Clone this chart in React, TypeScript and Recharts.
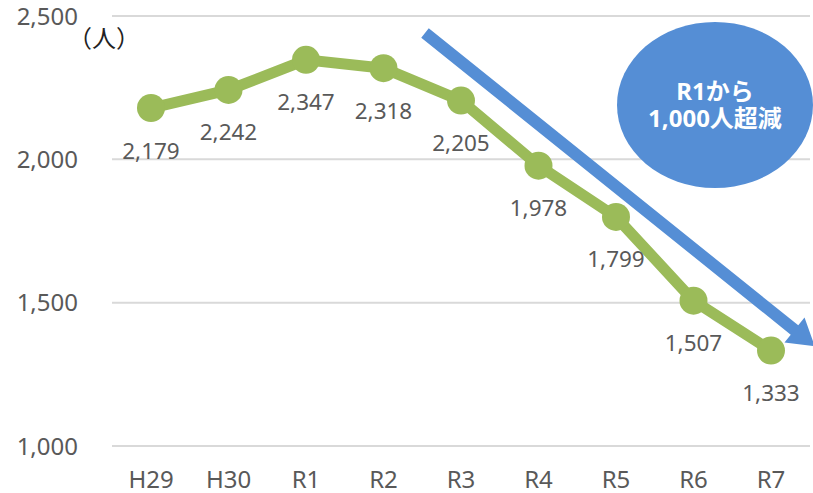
import { CartesianGrid, LabelList, Line, LineChart, XAxis, YAxis } from "recharts";

const years = ["H29", "H30", "R1", "R2", "R3", "R4", "R5", "R6", "R7"];
const people = [2179, 2242, 2347, 2318, 2205, 1978, 1799, 1507, 1333];
const yTicks = [1000, 1500, 2000, 2500];

const data = years.map((year, i) => ({ year, people: people[i] }));

const FONT = '"Noto Sans", "Noto Sans CJK JP", sans-serif';
const GREEN = "#9BBB59";
const BLUE = "#558ED5";
const TEXT = "#595959";

function fmt(v: number) {
  return v.toLocaleString("en-US");
}

function ValueLabel(props: any) {
  const { x, y, value } = props;
  return (
    <text
      x={x}
      y={y + 42}
      textAnchor="middle"
      dominantBaseline="central"
      fontSize={22.5}
      fill={TEXT}
      fontFamily={FONT}
    >
      {fmt(Number(value))}
    </text>
  );
}

// down arrow + bubble overlay
function Annotations() {
  const sx = 425;
  const sy = 33;
  const bx = 794.5;
  const by = 330;
  const len = Math.hypot(bx - sx, by - sy);
  const ux = (bx - sx) / len;
  const uy = (by - sy) / len;
  const nx = -uy;
  const ny = ux;
  const hw = 6;
  const headW = 16;
  const headL = 26;
  const pts = [
    [sx + nx * hw, sy + ny * hw],
    [bx + nx * hw, by + ny * hw],
    [bx + nx * headW, by + ny * headW],
    [bx + ux * headL, by + uy * headL],
    [bx - nx * headW, by - ny * headW],
    [bx - nx * hw, by - ny * hw],
    [sx - nx * hw, sy - ny * hw],
  ]
    .map((p) => p.join(","))
    .join(" ");
  return (
    <svg
      width={813}
      height={493}
      style={{ position: "absolute", left: 0, top: 0, pointerEvents: "none" }}
    >
      <polygon points={pts} fill={BLUE} />
      <ellipse cx={715} cy={105} rx={98} ry={83} fill={BLUE} />
      <text
        x={715}
        y={90}
        textAnchor="middle"
        dominantBaseline="central"
        fontSize={24}
        fontWeight="bold"
        fill="#fff"
        fontFamily={FONT}
      >
        R1から
      </text>
      <text
        x={715}
        y={117}
        textAnchor="middle"
        dominantBaseline="central"
        fontSize={24}
        fontWeight="bold"
        fill="#fff"
        fontFamily={FONT}
      >
        1,000人超減
      </text>
      <text
        x={68}
        y={37}
        dominantBaseline="central"
        fontSize={24}
        fill="#222"
        fontFamily={FONT}
      >
        （人）
      </text>
    </svg>
  );
}

export default function App() {
  return (
    <div style={{ position: "absolute", left: 0, top: 0, width: 813, height: 493, background: "#fff" }}>
      <LineChart width={813} height={493} data={data} margin={{ top: 16, right: 3, bottom: 0, left: 0 }}>
        <CartesianGrid vertical={false} stroke="#d9d9d9" strokeWidth={2} />
        <XAxis
          dataKey="year"
          axisLine={false}
          tickLine={false}
          tickSize={0}
          tickMargin={25}
          height={47}
          padding={{ left: 39, right: 39 }}
          tick={{ fontSize: 24, fill: TEXT, fontFamily: FONT }}
        />
        <YAxis
          domain={[1000, 2500]}
          ticks={yTicks}
          axisLine={false}
          tickLine={false}
          tickSize={0}
          tickMargin={34}
          width={112}
          tickFormatter={fmt}
          tick={{ fontSize: 24, fill: TEXT, fontFamily: FONT }}
        />
        <Line
          type="linear"
          dataKey="people"
          stroke={GREEN}
          strokeWidth={11}
          dot={{ r: 14, fill: GREEN, stroke: GREEN, strokeWidth: 0 }}
          isAnimationActive={false}
        >
          <LabelList dataKey="people" content={<ValueLabel />} />
        </Line>
      </LineChart>
      <Annotations />
    </div>
  );
}
